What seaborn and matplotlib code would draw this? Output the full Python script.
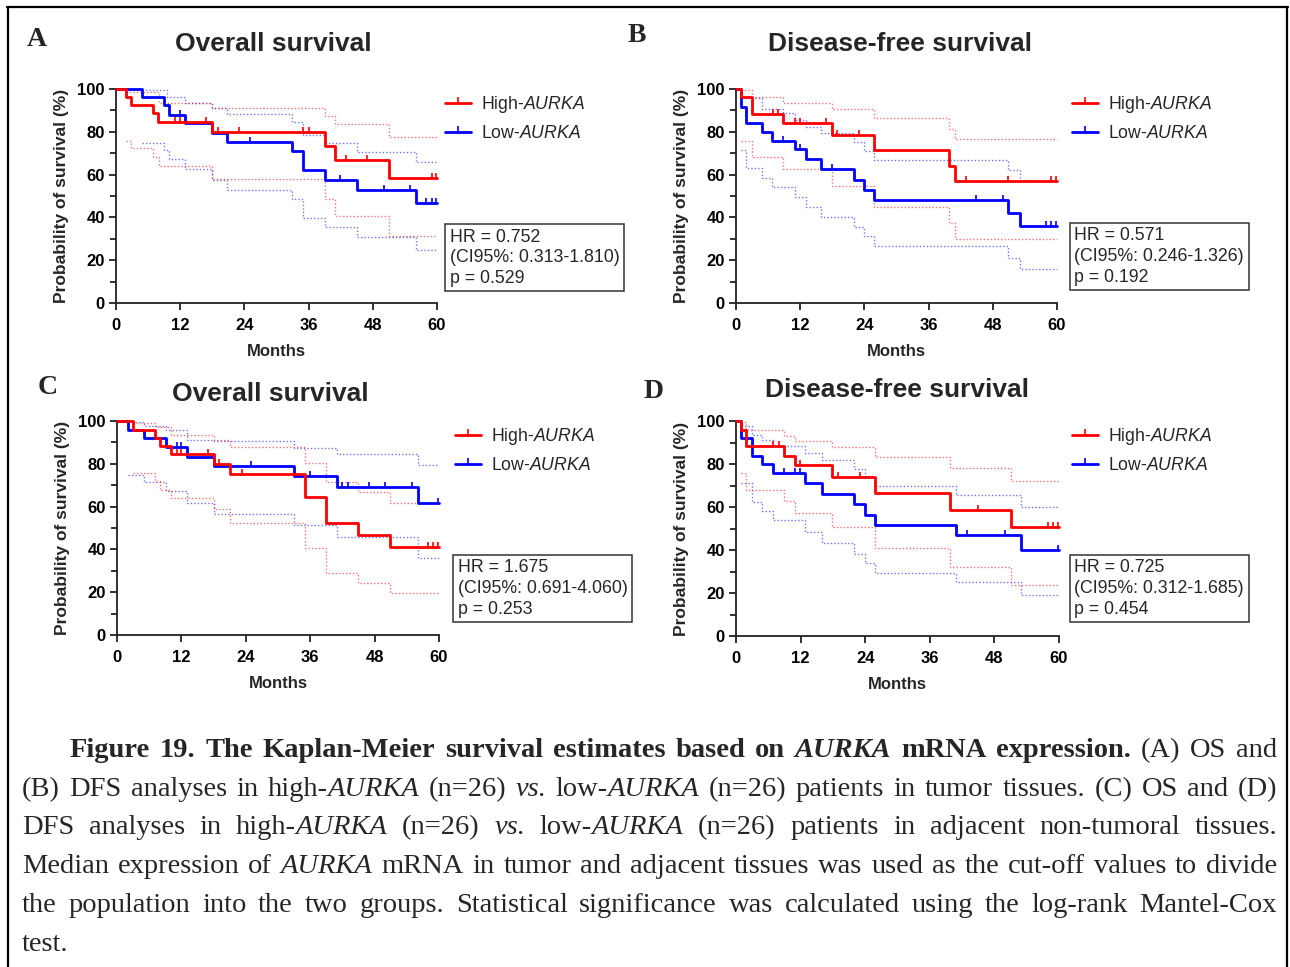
import numpy as np
import pandas as pd
import matplotlib
matplotlib.use("Agg")
import matplotlib.pyplot as plt
import seaborn as sns
from matplotlib.lines import Line2D

sns.set_style("ticks")
plt.rcParams["font.family"] = ["Liberation Sans", "DejaVu Sans"]
plt.rcParams["mathtext.fontset"] = "custom"
plt.rcParams["mathtext.rm"] = "Liberation Sans"
plt.rcParams["mathtext.it"] = "Liberation Sans:italic"
plt.rcParams["mathtext.bf"] = "Liberation Sans:bold"

# ---------------- data (months, survival %) ----------------
# Panel A - Overall survival (tumor)
A_high_t = [1.9, 2.8, 7.0, 7.9, 18.0, 39.0, 41.0, 51.0]
A_high_s = [96.1, 92.4, 88.6, 84.6, 79.9, 73.3, 66.8, 58.3]
A_high_cens = [11.0, 12.0, 16.9, 19.1, 23.0, 35.0, 36.0, 42.9, 46.9, 59.0, 59.9]
A_high_up_t = [1.9, 8.1, 18.0, 39.0, 41.0, 51.0]
A_high_up = [98.4, 93.6, 91.0, 87.5, 83.5, 77.7]
A_high_lo_t = [1.9, 2.8, 7.0, 8.1, 18.0, 39.0, 41.0, 51.0]
A_high_lo = [75.7, 72.5, 68.3, 64.0, 57.9, 48.5, 40.6, 31.2]
A_low_t = [4.9, 9.0, 9.9, 12.9, 18.0, 20.8, 32.9, 35.0, 39.0, 45.0, 56.0]
A_low_s = [96.1, 92.4, 88.0, 83.9, 79.3, 75.4, 71.0, 62.1, 57.6, 52.7, 46.8]
A_low_cens = [11.9, 25.0, 41.9, 50.0, 55.0, 58.0, 59.0, 59.9]
A_low_up_t = [4.9, 9.5, 12.9, 18.0, 20.8, 32.9, 35.0, 39.0, 45.0, 56.0]
A_low_up = [99.5, 96.1, 93.6, 91.0, 88.1, 84.7, 78.5, 74.6, 70.7, 66.0]
A_low_lo_t = [4.9, 9.0, 9.9, 12.9, 18.0, 20.8, 32.9, 35.0, 39.0, 45.0, 56.0]
A_low_lo = [74.9, 71.4, 67.1, 62.4, 57.7, 53.0, 48.4, 39.8, 35.4, 30.9, 25.0]

# Panel B - Disease-free survival (tumor)
B_high_t = [0.9, 2.9, 8.8, 17.9, 25.8, 39.8, 40.9]
B_high_s = [96.1, 88.3, 84.2, 78.5, 71.3, 64.1, 57.1]
B_high_cens = [7.0, 7.9, 11.0, 11.9, 16.9, 18.9, 23.0, 42.9, 50.9, 58.9, 59.9]
B_high_up_t = [0.9, 2.9, 8.8, 17.9, 25.8, 39.8, 40.9]
B_high_up = [99.5, 96.1, 93.6, 90.5, 86.4, 81.1, 76.6]
B_high_lo_t = [0.9, 2.9, 8.8, 17.9, 25.8, 39.8, 40.9]
B_high_lo = [75.7, 68.3, 62.7, 54.9, 44.9, 37.4, 30.1]
B_low_t = [0.9, 1.9, 4.9, 6.8, 11.0, 13.0, 15.9, 22.0, 23.9, 25.8, 50.9, 53.0]
B_low_s = [91.7, 83.9, 79.9, 75.8, 71.8, 67.1, 62.7, 57.7, 53.0, 48.0, 42.1, 36.0]
B_low_cens = [8.8, 11.9, 17.9, 44.9, 49.9, 57.9, 58.9, 59.9]
B_low_up_t = [0.9, 4.9, 8.8, 11.0, 13.0, 15.9, 22.0, 23.9, 25.8, 50.9, 53.0]
B_low_up = [96.0, 90.5, 88.6, 85.5, 82.4, 79.3, 75.4, 71.1, 66.8, 62.1, 57.5]
B_low_lo_t = [0.9, 1.9, 4.9, 6.8, 11.0, 13.0, 15.9, 22.0, 23.9, 25.8, 50.9, 53.0]
B_low_lo = [71.4, 62.9, 58.2, 54.0, 49.3, 44.9, 40.2, 35.6, 31.2, 26.8, 21.1, 16.1]

# Panel C - Overall survival (adjacent)
C_high_t = [3.0, 7.0, 8.1, 10.0, 18.1, 21.0, 35.0, 39.0, 44.9, 50.9]
C_high_s = [95.8, 92.1, 88.3, 84.6, 79.9, 75.1, 64.3, 52.5, 46.6, 41.0]
C_high_cens = [11.1, 12.0, 17.0, 19.0, 23.2, 58.0, 58.9, 59.8]
C_high_up_t = [3.0, 7.0, 10.0, 18.1, 21.0, 35.0, 39.0, 44.9, 50.9]
C_high_up = [99.2, 97.4, 93.6, 91.1, 88.0, 80.5, 71.7, 67.0, 61.5]
C_high_lo_t = [3.0, 7.0, 8.1, 10.0, 18.1, 21.0, 35.0, 39.0, 44.9, 50.9]
C_high_lo = [75.5, 72.1, 67.8, 63.9, 58.7, 52.2, 40.5, 28.8, 24.1, 19.5]
C_low_t = [2.0, 5.0, 9.1, 13.0, 18.1, 33.0, 41.0, 56.0]
C_low_s = [95.8, 91.9, 88.0, 83.3, 79.0, 74.3, 69.3, 61.5]
C_low_cens = [11.1, 12.0, 25.0, 36.0, 42.0, 43.0, 47.0, 49.9, 55.0, 59.8]
C_low_up_t = [2.0, 5.0, 9.1, 13.0, 18.1, 33.0, 41.0, 56.0]
C_low_up = [99.5, 97.8, 95.8, 91.1, 90.5, 87.2, 84.4, 79.4]
C_low_lo_t = [2.0, 5.0, 9.1, 13.0, 18.1, 33.0, 41.0, 56.0]
C_low_lo = [74.6, 71.5, 67.1, 61.5, 56.5, 51.4, 46.0, 36.1]

# Panel D - Disease-free survival (adjacent)
D_high_t = [0.9, 1.9, 8.9, 10.9, 17.9, 25.9, 39.8, 51.0]
D_high_s = [95.9, 88.6, 83.8, 79.6, 73.9, 66.5, 58.7, 50.5]
D_high_cens = [6.9, 7.9, 11.9, 19.0, 23.0, 45.0, 57.9, 58.9, 59.8]
D_high_up_t = [0.9, 1.9, 8.9, 10.9, 17.9, 25.9, 39.8, 51.0]
D_high_up = [99.5, 95.9, 93.1, 90.8, 87.7, 83.3, 78.0, 71.9]
D_high_lo_t = [0.9, 1.9, 8.9, 10.9, 17.9, 25.9, 39.8, 51.0]
D_high_lo = [75.8, 68.0, 62.7, 57.3, 50.5, 40.9, 32.3, 23.6]
D_low_t = [0.9, 2.9, 4.9, 6.9, 12.9, 15.9, 21.9, 23.9, 25.9, 40.8, 52.9]
D_low_s = [92.0, 83.8, 79.9, 75.8, 71.1, 66.1, 61.2, 56.5, 51.6, 47.0, 40.2]
D_low_cens = [8.9, 10.9, 11.9, 42.9, 49.9, 59.8]
D_low_up_t = [0.9, 2.9, 4.9, 6.9, 12.9, 15.9, 21.9, 23.9, 25.9, 40.8, 52.9]
D_low_up = [97.5, 93.6, 91.1, 88.5, 84.9, 81.7, 77.5, 74.4, 69.7, 65.8, 60.2]
D_low_lo_t = [0.9, 2.9, 4.9, 6.9, 12.9, 15.9, 21.9, 23.9, 25.9, 40.8, 52.9]
D_low_lo = [71.3, 62.4, 58.3, 53.8, 48.4, 43.2, 38.2, 33.9, 29.5, 25.3, 19.0]

titles = ["Overall survival", "Disease-free survival", "Overall survival", "Disease-free survival"]
letters = ["A", "B", "C", "D"]
hr_texts = [
    "HR = 0.752\n(CI95%: 0.313-1.810)\np = 0.529",
    "HR = 0.571\n(CI95%: 0.246-1.326)\np = 0.192",
    "HR = 1.675\n(CI95%: 0.691-4.060)\np = 0.253",
    "HR = 0.725\n(CI95%: 0.312-1.685)\np = 0.454",
]
group_labels = ["High-$\\mathit{AURKA}$", "Low-$\\mathit{AURKA}$"]
x_ticks = [0, 12, 24, 36, 48, 60]
y_ticks = [0, 20, 40, 60, 80, 100]

RED = "#FF0000"
BLUE = "#0000FF"

panels = {
    "A": dict(high=(A_high_t, A_high_s, A_high_cens, A_high_up_t, A_high_up, A_high_lo_t, A_high_lo),
              low=(A_low_t, A_low_s, A_low_cens, A_low_up_t, A_low_up, A_low_lo_t, A_low_lo)),
    "B": dict(high=(B_high_t, B_high_s, B_high_cens, B_high_up_t, B_high_up, B_high_lo_t, B_high_lo),
              low=(B_low_t, B_low_s, B_low_cens, B_low_up_t, B_low_up, B_low_lo_t, B_low_lo)),
    "C": dict(high=(C_high_t, C_high_s, C_high_cens, C_high_up_t, C_high_up, C_high_lo_t, C_high_lo),
              low=(C_low_t, C_low_s, C_low_cens, C_low_up_t, C_low_up, C_low_lo_t, C_low_lo)),
    "D": dict(high=(D_high_t, D_high_s, D_high_cens, D_high_up_t, D_high_up, D_high_lo_t, D_high_lo),
              low=(D_low_t, D_low_s, D_low_cens, D_low_up_t, D_low_up, D_low_lo_t, D_low_lo)),
}

W, H = 1290, 967
fig = plt.figure(figsize=(W / 100, H / 100), dpi=100)

def fx(px):
    return px / W

def fy(py):
    return 1 - py / H

# axes boxes in pixel coords (left, top, right, bottom)
boxes = {"A": (116, 89, 437, 303), "B": (736, 89, 1057, 303),
         "C": (117, 421, 439, 635), "D": (736, 421, 1059, 636)}
title_pos = {"A": (273, 44), "B": (900, 44), "C": (270, 394), "D": (897, 390)}
letter_pos = {"A": (37, 40), "B": (637, 36), "C": (48, 387), "D": (654, 392)}
legend_x = {"A": 445, "B": 1072, "C": 455, "D": 1072}
hrbox_pos = {"A": (445, 224), "B": (1070, 223), "C": (453, 555), "D": (1070, 555)}


def step_frame(times, vals, start=True):
    if start:
        x = [0.0] + list(times) + [60.0]
        y = [100.0] + list(vals) + [vals[-1]]
    else:
        x = list(times) + [60.0]
        y = list(vals) + [vals[-1]]
    return pd.DataFrame({"month": x, "surv": y})


def surv_at(t, times, vals):
    s = 100.0
    for ti, vi in zip(times, vals):
        if t >= ti:
            s = vi
    return s


for i, key in enumerate(["A", "B", "C", "D"]):
    l, t, r, b = boxes[key]
    ax = fig.add_axes([fx(l), fy(b), fx(r) - fx(l), fy(t) - fy(b)])
    for grp, col in (("low", BLUE), ("high", RED)):
        tt, ss, cens, ut, uv, lt, lv = panels[key][grp]
        sns.lineplot(data=step_frame(ut, uv, start=False), x="month", y="surv", ax=ax,
                     color=col, lw=1.0, linestyle=(0, (1, 1.5)), alpha=0.55,
                     drawstyle="steps-post", estimator=None, sort=False, clip_on=False)
        sns.lineplot(data=step_frame(lt, lv, start=False), x="month", y="surv", ax=ax,
                     color=col, lw=1.0, linestyle=(0, (1, 1.5)), alpha=0.55,
                     drawstyle="steps-post", estimator=None, sort=False, clip_on=False)
    for grp, col in (("low", BLUE), ("high", RED)):
        tt, ss, cens, ut, uv, lt, lv = panels[key][grp]
        sns.lineplot(data=step_frame(tt, ss), x="month", y="surv", ax=ax, color=col,
                     lw=2.0, drawstyle="steps-post", estimator=None, sort=False,
                     clip_on=False, zorder=4)
        cdf = pd.DataFrame({"month": cens, "surv": [surv_at(c, tt, ss) for c in cens]})
        sns.lineplot(data=cdf, x="month", y="surv", ax=ax, color=col, linestyle="none",
                     marker=2, markersize=3.8, markeredgewidth=1.2, markeredgecolor=col,
                     estimator=None, sort=False, clip_on=False, zorder=5)

    ax.set_xlim(0, 60)
    ax.set_ylim(0, 100)
    ax.set_xticks(x_ticks)
    ax.set_yticks(y_ticks)
    ax.set_yticks([10, 30, 50, 70, 90], minor=True)
    ax.tick_params(axis="both", which="major", direction="out", length=5, width=1.3,
                   labelsize=12, pad=3, colors="#222222")
    ax.tick_params(axis="x", which="major", pad=6)
    ax.tick_params(axis="y", which="minor", direction="out", length=4, width=1.3,
                   colors="#222222")
    for lab in ax.get_xticklabels() + ax.get_yticklabels():
        lab.set_fontweight("bold")
        lab.set_color("black")
    sns.despine(ax=ax)
    for sp in ("left", "bottom"):
        ax.spines[sp].set_linewidth(1.3)
        ax.spines[sp].set_color("#222222")
    ax.set_xlabel("Months", fontsize=12, fontweight="bold", labelpad=8)
    ax.set_ylabel("Probability of survival (%)", fontsize=12.5, fontweight="bold", labelpad=6)

    # legend
    handles = [Line2D([0], [0], color=RED, lw=2, marker=2, ms=4, mew=1.2),
               Line2D([0], [0], color=BLUE, lw=2, marker=2, ms=4, mew=1.2)]
    lx = (legend_x[key] - l) / (r - l)
    ly = (b - (t + 5)) / (b - t)
    ax.legend(handles, group_labels, loc="upper left", bbox_to_anchor=(lx, ly),
              frameon=False, fontsize=12.7, borderaxespad=0, borderpad=0,
              handlelength=1.45, handletextpad=0.6, labelspacing=0.55, numpoints=1)

    # HR box
    bx, by = hrbox_pos[key]
    ax.text((bx + 4.5 - l) / (r - l), (b - (by + 4.5)) / (b - t), hr_texts[i],
            transform=ax.transAxes, ha="left", va="top", fontsize=12.8, linespacing=1.27,
            bbox=dict(boxstyle="square,pad=0.27", fc="white", ec="#333333", lw=1.1))

    # title and letter
    tx, ty = title_pos[key]
    fig.text(fx(tx), fy(ty), titles[i], ha="center", va="center", fontsize=19,
             fontweight="bold")
    lx2, ly2 = letter_pos[key]
    fig.text(fx(lx2), fy(ly2), letters[i], ha="center", va="center", fontsize=20,
             fontweight="bold", family=["Liberation Serif", "DejaVu Serif"])

# ---------------- caption ----------------
cap_lines = [
    [("Figure 19.  The Kaplan-Meier survival estimates based on ", "b"), ("AURKA", "bi"),
     (" mRNA expression.", "b"), (" (A) OS and", "n")],
    [("(B) DFS analyses in high-", "n"), ("AURKA", "i"), (" (n=26) ", "n"), ("vs.", "i"),
     (" low-", "n"), ("AURKA", "i"), (" (n=26) patients in tumor tissues. (C) OS and (D)", "n")],
    [("DFS analyses in high-", "n"), ("AURKA", "i"), (" (n=26) ", "n"), ("vs.", "i"),
     (" low-", "n"), ("AURKA", "i"), (" (n=26) patients in adjacent non-tumoral tissues.", "n")],
    [("Median expression of ", "n"), ("AURKA", "i"),
     (" mRNA in tumor and adjacent tissues was used as the cut-off values to divide", "n")],
    [("the population into the two groups. Statistical significance was calculated using the log-rank Mantel-Cox", "n")],
    [("test.", "n")],
]
cap_left = [70, 22, 22, 22, 22, 22]
cap_right = 1277
cap_base = [757, 796, 834, 873, 912, 951]
styles = {"n": ("normal", "normal"), "b": ("bold", "normal"), "i": ("normal", "italic"),
          "bi": ("bold", "italic")}

renderer = fig.canvas.get_renderer()
CAP_FAMILY = ["Liberation Serif", "DejaVu Serif"]


def measure(s, st, fs):
    wgt, sty = styles[st]
    tt = fig.text(0, 0, s, fontsize=fs, fontweight=wgt, fontstyle=sty, family=CAP_FAMILY)
    w = tt.get_window_extent(renderer).width
    tt.remove()
    return w


def split_words(runs):
    words = [[]]
    for text, st in runs:
        parts = text.split(" ")
        for k, p in enumerate(parts):
            if k > 0 and words[-1]:
                words.append([])
            if p:
                words[-1].append((p, st))
    if not words[-1]:
        words.pop()
    return words


cap_fs = 20.5
for _ in range(5):
    space = measure("a a", "n", cap_fs) - measure("aa", "n", cap_fs)
    worst = 0
    for li in range(5):
        words = split_words(cap_lines[li])
        total = sum(measure(p, st, cap_fs) for wd in words for p, st in wd)
        nat = total + space * 0.8 * (len(words) - 1)
        worst = max(worst, nat / (cap_right - cap_left[li]))
    if worst > 0.998:
        cap_fs *= 0.995 / worst
    else:
        break

space = measure("a a", "n", cap_fs) - measure("aa", "n", cap_fs)
for li, runs in enumerate(cap_lines):
    words = split_words(runs)
    widths = [[measure(p, st, cap_fs) for p, st in wd] for wd in words]
    total = sum(sum(w) for w in widths)
    if li < len(cap_lines) - 1 and len(words) > 1:
        gap = (cap_right - cap_left[li] - total) / (len(words) - 1)
    else:
        gap = space
    x = cap_left[li]
    for wd, ws in zip(words, widths):
        for (p, st), w in zip(wd, ws):
            wgt, sty = styles[st]
            fig.text(fx(x), fy(cap_base[li]), p, fontsize=cap_fs, fontweight=wgt,
                     fontstyle=sty, family=CAP_FAMILY, ha="left", va="baseline")
            x += w
        x += gap

# frame around the figure
for xs, ys in (([7, 1288], [7, 7]), ([8, 8], [7, 967]), ([1287, 1287], [7, 967])):
    fig.add_artist(Line2D([fx(v) for v in xs], [fy(v) for v in ys], color="black", lw=1.6))

fig.savefig("out.png", dpi=100)
